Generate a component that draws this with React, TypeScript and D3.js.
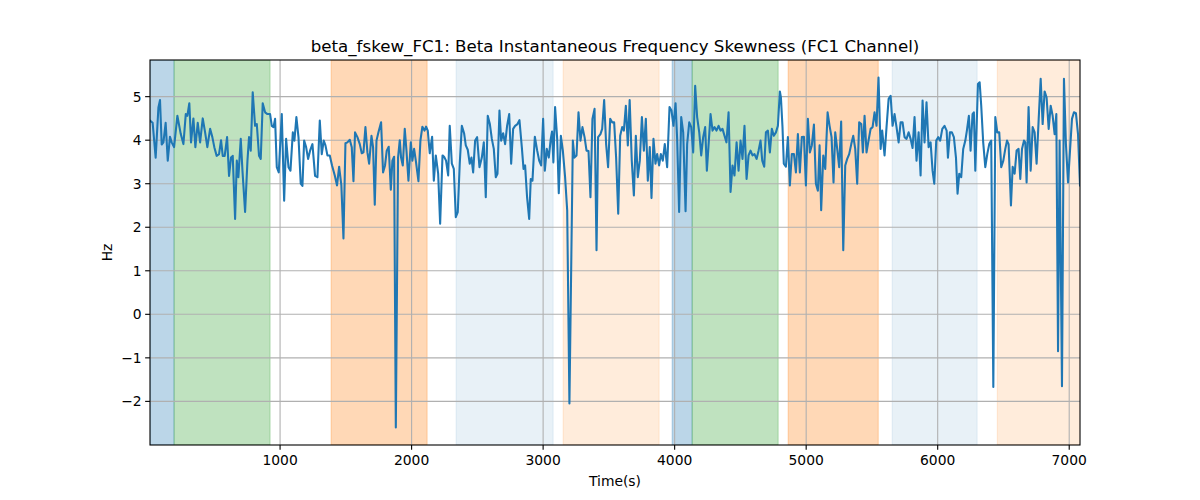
import React from "react";
import * as d3 from "d3";

const times: number[] = [
  11, 31, 54, 75, 87, 100, 113, 130, 146, 163, 176, 194, 219, 245, 265, 283, 295, 310, 323, 341,
  356, 374, 392, 412, 430, 447, 468, 485, 500, 518, 536, 551, 564, 579, 597, 612, 627, 640, 658,
  671, 683, 701, 714, 734, 752, 764, 777, 792, 810, 823, 840, 853, 868, 886, 904, 924, 937, 950,
  962, 975, 990, 1013, 1031, 1046, 1064, 1079, 1097, 1109, 1124, 1140, 1157, 1170, 1183, 1198,
  1213, 1228, 1246, 1266, 1284, 1302, 1317, 1332,
  1345, 1360, 1378, 1395, 1416, 1433, 1449, 1466, 1482, 1497, 1512, 1530, 1545, 1558, 1570, 1588,
  1606, 1621, 1634, 1649, 1664, 1677, 1695, 1707, 1720, 1733, 1748, 1768, 1783, 1798, 1811, 1826,
  1842, 1854, 1867, 1880, 1897, 1910,
  1920, 1933, 1948, 1961, 1976, 1994, 2006, 2019, 2032, 2052, 2067, 2082, 2098, 2110, 2123, 2138,
  2156, 2169, 2184, 2202, 2217, 2235, 2247, 2262, 2278, 2290, 2306, 2321, 2336, 2351, 2366, 2382,
  2399, 2412, 2427, 2442, 2455, 2468, 2483, 2498,
  2516, 2534, 2549, 2564, 2579, 2595, 2610, 2625, 2640, 2653, 2668, 2681, 2696, 2711, 2726, 2742,
  2757, 2772, 2787, 2805, 2820, 2838, 2851, 2863, 2878, 2894, 2906, 2919, 2937, 2955, 2970, 2985,
  3000, 3013, 3028, 3043, 3058, 3068,
  3078, 3091, 3107, 3119, 3135, 3150, 3167, 3183, 3200, 3226, 3238, 3254, 3269, 3284, 3299, 3315,
  3330, 3345, 3360, 3375, 3391, 3406, 3418, 3436, 3449, 3464, 3479, 3494, 3510, 3525, 3540, 3555,
  3571, 3586, 3601, 3614, 3629, 3644, 3658,
  3674, 3690, 3705, 3720, 3735, 3751, 3766, 3781, 3796, 3811, 3824, 3839, 3854, 3867, 3882, 3895,
  3910, 3925, 3943, 3961, 3976, 3991, 4007, 4019, 4034, 4050, 4065, 4083, 4095, 4111, 4126, 4141,
  4156, 4171, 4187, 4202, 4217, 4232,
  4245, 4260, 4273, 4288, 4303, 4318, 4334, 4349, 4364, 4379, 4394, 4410, 4425, 4440, 4455, 4471,
  4486, 4501, 4516, 4531, 4547, 4562, 4577, 4592, 4607, 4623, 4638, 4653, 4666, 4681, 4694, 4709,
  4724, 4739, 4754, 4770, 4785, 4800,
  4808, 4820, 4830, 4846, 4861, 4876, 4891, 4907, 4922, 4937, 4952, 4967, 4983, 4998, 5013, 5028,
  5043, 5059, 5074, 5089, 5102, 5114, 5130, 5145, 5163, 5178, 5193, 5208, 5221, 5236, 5251, 5266,
  5282, 5297, 5312, 5327, 5343, 5358, 5373, 5388,
  5403, 5419, 5431, 5444, 5459, 5474, 5490, 5505, 5520, 5535, 5550, 5566, 5578, 5596, 5611, 5627,
  5642, 5657, 5672, 5687, 5703, 5718, 5733, 5748, 5763, 5779, 5794, 5809, 5824, 5839, 5855, 5870,
  5885, 5900, 5915, 5931, 5946, 5961, 5974,
  5989, 6004, 6019, 6035, 6052, 6068, 6078, 6093, 6108, 6123, 6139, 6151, 6164, 6179, 6194, 6210,
  6222, 6237, 6250, 6265, 6275, 6286, 6296, 6306, 6319, 6331, 6346, 6362, 6377, 6392, 6407, 6423,
  6438, 6453, 6468, 6483, 6499, 6514,
  6527, 6539, 6557, 6570, 6585, 6600, 6615, 6628, 6641, 6656, 6666, 6676, 6691, 6707, 6722, 6737,
  6752, 6768, 6783, 6798, 6813, 6828, 6844, 6859, 6874, 6889, 6902, 6915, 6927, 6945, 6960, 6975,
  6991, 7006, 7021, 7036, 7051, 7067, 7082,
];

const values: number[] = [
  4.45, 4.4, 3.6, 4.75, 4.92, 3.9, 3.95, 4.4, 3.53, 4.08, 3.95, 3.84, 4.56, 4.14, 3.91, 4.6, 4.56, 4.85, 3.95, 4.5,
  3.84, 4.4, 3.95, 4.5, 4.18, 3.84, 4.26, 4.07, 3.84, 3.64, 3.68, 4.0, 3.64, 3.64, 4.07, 3.18, 3.6, 3.64, 2.19,
  3.53, 3.15, 4.03, 3.3, 2.35, 3.53, 4.07, 3.76, 5.1, 4.33, 4.37, 3.64, 3.57, 4.85, 4.64, 4.6, 4.6, 4.33, 4.3,
  4.49, 3.38, 3.26, 4.6, 2.61, 4.03, 3.38, 3.3, 4.18, 3.99, 4.53, 4.07, 3.0, 2.95, 3.99, 3.84,
  3.57, 3.76, 3.91, 3.18, 3.15, 4.45, 3.68, 3.99,
  3.88, 3.65, 3.65, 3.42, 3.19, 2.96, 3.39, 2.96, 1.74, 3.93, 3.95, 4.01, 3.84, 3.06, 4.18, 4.07,
  3.91, 3.7, 3.72, 4.3, 3.72, 3.46, 4.1, 3.84, 2.52, 3.99, 4.18, 4.41, 3.26, 3.42, 3.76, 3.85,
  2.86, 3.53, 3.62, -2.6, 3.6, 4.0,
  3.6, 3.42, 4.26, 3.76, 3.07, 3.95, 3.53, 3.8, 3.53, 3.06, 3.99, 4.31, 4.22, 4.31, 4.22, 3.7,
  4.08, 3.07, 3.65, 3.23, 2.08, 3.65, 3.62, 3.53, 3.19, 4.33, 3.46, 3.34, 2.23, 2.35, 3.46, 4.33,
  4.16, 3.88, 3.78, 3.46, 3.6, 3.26, 3.99, 4.07,
  3.38, 3.6, 3.95, 2.69, 4.56, 4.37, 4.03, 3.8, 3.15, 3.23, 4.68, 3.99, 4.16, 3.91, 4.33, 4.6,
  3.46, 4.26, 4.33, 4.37, 4.46, 3.84, 3.34, 3.42, 2.69, 2.19, 3.11, 3.07, 4.08, 3.76, 3.53, 3.42,
  4.49, 3.3, 3.8, 3.6, 4.03, 4.2,
  3.49, 4.76, 4.03, 2.78, 4.1, 3.76, 3.15, 2.39, -2.05, 3.99, 3.6, 3.65, 4.64, 3.99, 4.3, 4.07,
  3.76, 3.75, 2.69, 4.49, 4.72, 1.47, 4.07, 4.14, 4.26, 4.92, 3.91, 3.38, 4.49, 4.41, 4.41, 3.6,
  2.31, 4.1, 4.3, 4.22, 4.79, 3.88, 4.92,
  3.53, 2.73, 4.1, 3.15, 3.53, 4.53, 3.76, 4.49, 3.07, 3.84, 2.67, 4.03, 3.46, 3.68, 3.42, 3.68,
  3.53, 3.91, 3.38, 4.76, 4.68, 4.33, 4.85, 4.03, 2.35, 4.53, 4.18, 2.37, 3.91, 4.41, 4.3, 3.72,
  5.25, 4.53, 4.18, 3.65, 4.07, 4.3,
  3.3, 3.99, 4.6, 4.22, 4.3, 4.22, 4.33, 4.22, 4.26, 4.1, 3.95, 4.64, 2.81, 3.42, 3.19, 3.95,
  3.3, 3.99, 3.57, 4.33, 3.11, 3.65, 3.76, 3.65, 3.68, 3.57, 3.76, 3.99, 3.53, 3.39, 4.18, 4.22,
  3.72, 4.26, 4.1, 4.18, 4.33, 5.12,
  4.98, 4.3, 3.46, 3.39, 4.07, 2.96, 3.68, 3.68, 3.26, 4.14, 3.26, 4.07, 4.08, 2.96, 4.49, 3.72,
  3.88, 4.36, 3.0, 2.84, 3.88, 2.39, 3.65, 3.34, 4.64, 4.33, 4.07, 3.03, 4.18, 3.8, 3.38, 4.43,
  1.47, 3.42, 3.57, 3.68, 3.91, 4.1, 3.8, 3.0,
  4.41, 4.37, 3.72, 4.56, 3.72, 3.99, 4.26, 4.3, 4.64, 4.33, 5.44, 3.8, 4.22, 3.65, 4.3, 4.95,
  5.02, 4.33, 4.6, 4.3, 3.95, 4.41, 4.41, 4.07, 4.03, 4.18, 4.03, 3.82, 4.53, 3.53, 4.18, 3.19,
  4.91, 3.95, 4.87, 3.84, 3.95, 3.3, 3.0,
  3.99, 4.07, 3.99, 4.26, 4.33, 4.22, 3.6, 4.18, 4.18, 4.07, 3.6, 2.77, 3.23, 3.15, 3.8, 3.99,
  4.22, 4.56, 3.76, 4.6, 4.64, 3.3, 4.3, 5.29, 5.33, 4.79, 3.95, 3.38, 3.68, 3.91, 3.99, -1.67,
  4.53, 4.18, 4.18, 3.38, 3.53, 3.8,
  3.99, 3.91, 2.5, 3.39, 3.23, 3.76, 3.8, 3.11, 3.8, 3.99, 3.95, 3.03, 4.76, 3.3, 4.3, 4.18,
  3.46, 4.49, 5.41, 4.37, 5.12, 4.98, 4.26, 4.79, 4.56, 4.14, 4.6, -0.85, 3.99, -1.65, 5.41, 3.91,
  3.03, 3.76, 4.49, 4.64, 4.62, 4.14, 2.96,
];

const bandStarts: number[] = [11, 194, 1388, 2338, 3152, 3981, 4133, 4863, 5654, 6453];
const bandEnds: number[] = [194, 924, 2118, 3076, 3882, 4133, 4787, 5548, 6300, 7100];
const bandColors: string[] = ["#1f77b4", "#2ca02c", "#ff7f0e", "#1f77b4", "#ff7f0e", "#1f77b4", "#2ca02c", "#ff7f0e", "#1f77b4", "#ff7f0e"];
const bandAlphas: number[] = [0.3, 0.3, 0.3, 0.1, 0.15, 0.3, 0.3, 0.3, 0.1, 0.15];

const xTicks: number[] = [1000, 2000, 3000, 4000, 5000, 6000, 7000];
const yTicks: number[] = [-2, -1, 0, 1, 2, 3, 4, 5];

const titleText = "beta_fskew_FC1: Beta Instantaneous Frequency Skewness (FC1 Channel)";
const xLabel = "Time(s)";
const yLabel = "Hz";

export default function App() {
  const W = 1200, H = 500;
  const L = 150, R = 1080, T = 60, B = 445;
  const xMin = d3.min(times)!, xMax = d3.max(times)!;
  const vMin = d3.min(values)!, vMax = d3.max(values)!;
  const pad = (vMax - vMin) * 0.05;
  const x = d3.scaleLinear().domain([xMin, xMax]).range([L, R]);
  const y = d3.scaleLinear().domain([vMin - pad, vMax + pad]).range([B, T]);
  const line = d3.line<number>().x((_, i) => x(times[i])).y((v) => y(v));
  const font = "DejaVu Sans, sans-serif";
  const fmt = (v: number) => (v < 0 ? "\u2212" + Math.abs(v) : String(v));
  const tickFs = 13.89;
  const tickLen = 4.86;

  return (
    <svg width={W} height={H} style={{ position: "absolute", left: 0, top: 0, background: "#fff" }} fontFamily={font}>
      <defs>
        <clipPath id="plot">
          <rect x={L} y={T} width={R - L} height={B - T} />
        </clipPath>
      </defs>
      <g clipPath="url(#plot)">
        {bandStarts.map((s, i) => {
          const x0 = x(s), x1 = x(bandEnds[i]);
          return (
            <rect key={i} x={x0} y={T} width={x1 - x0} height={B - T}
              fill={bandColors[i]} fillOpacity={bandAlphas[i]}
              stroke={bandColors[i]} strokeOpacity={bandAlphas[i]} strokeWidth={1} />
          );
        })}
      </g>
      {xTicks.map((t) => (
        <line key={"gx" + t} x1={x(t)} x2={x(t)} y1={T} y2={B} stroke="#b0b0b0" strokeWidth={1.1} />
      ))}
      {yTicks.map((t) => (
        <line key={"gy" + t} x1={L} x2={R} y1={y(t)} y2={y(t)} stroke="#b0b0b0" strokeWidth={1.1} />
      ))}
      <g clipPath="url(#plot)">
        <path d={line(values) || ""} fill="none" stroke="#1f77b4" strokeWidth={2.08} strokeLinejoin="round" strokeLinecap="square" />
      </g>
      <rect x={L} y={T} width={R - L} height={B - T} fill="none" stroke="#000" strokeWidth={1.1} />
      {xTicks.map((t) => (
        <g key={"tx" + t}>
          <line x1={x(t)} x2={x(t)} y1={B} y2={B + tickLen} stroke="#000" strokeWidth={1.1} />
          <text x={x(t)} y={B + 19.5} fontSize={tickFs} textAnchor="middle" fill="#000">{fmt(t)}</text>
        </g>
      ))}
      {yTicks.map((t) => (
        <g key={"ty" + t}>
          <line x1={L - tickLen} x2={L} y1={y(t)} y2={y(t)} stroke="#000" strokeWidth={1.1} />
          <text x={L - 8.3} y={y(t) + 5} fontSize={tickFs} textAnchor="end" fill="#000">{fmt(t)}</text>
        </g>
      ))}
      <text x={(L + R) / 2} y={52} fontSize={16.67} textAnchor="middle" fill="#000">{titleText}</text>
      <text x={(L + R) / 2} y={486} fontSize={tickFs} textAnchor="middle" fill="#000">{xLabel}</text>
      <text transform={`translate(112, ${(T + B) / 2}) rotate(-90)`} fontSize={tickFs} textAnchor="middle" fill="#000">{yLabel}</text>
    </svg>
  );
}
